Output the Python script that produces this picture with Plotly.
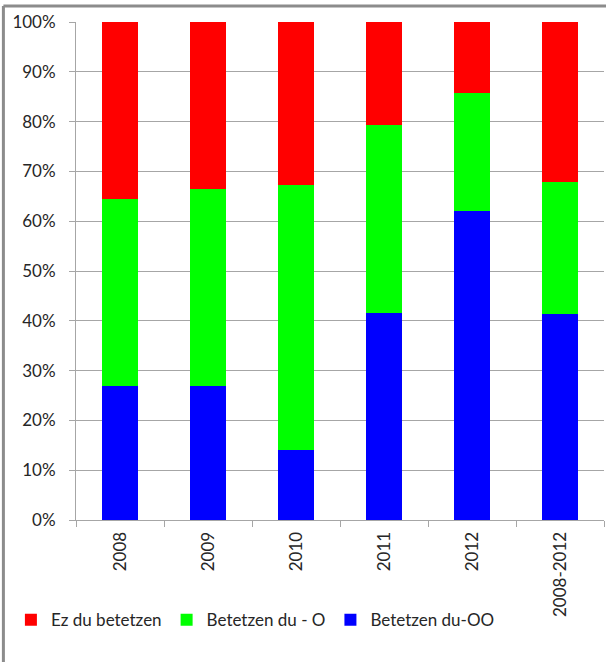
import plotly.graph_objects as go

categories = ["2008", "2009", "2010", "2011", "2012", "2008-2012"]
betetzen_oo = [26.9, 26.9, 14.0, 41.6, 62.1, 41.3]
betetzen_o = [37.6, 39.6, 53.3, 37.8, 23.7, 26.5]
ez_betetzen = [35.5, 33.5, 32.7, 20.6, 14.2, 32.2]
tick_vals = [0, 10, 20, 30, 40, 50, 60, 70, 80, 90, 100]
tick_text = [f"{v}%" for v in tick_vals]

FONT = "Lato, Carlito, Calibri, sans-serif"
TXT = "#262626"
GRID = "#a6a6a6"

fig = go.Figure()
fig.add_trace(go.Bar(x=categories, y=betetzen_oo, name="Betetzen du-OO",
                     marker=dict(color="#0000ff", line=dict(width=0))))
fig.add_trace(go.Bar(x=categories, y=betetzen_o, name="Betetzen du - O",
                     marker=dict(color="#00ff00", line=dict(width=0))))
fig.add_trace(go.Bar(x=categories, y=ez_betetzen, name="Ez du betetzen",
                     marker=dict(color="#ff0000", line=dict(width=0))))

fig.update_layout(
    width=606, height=662,
    barmode="stack", bargap=0.59,
    paper_bgcolor="white", plot_bgcolor="white",
    margin=dict(l=76, r=2, t=22, b=141.5, autoexpand=False),
    font=dict(family=FONT, size=17, color=TXT),
    showlegend=True,
    legend=dict(orientation="h", traceorder="reversed",
                xref="container", yref="container",
                x=0.018, y=0.063, xanchor="left", yanchor="middle",
                font=dict(family=FONT, size=17, color=TXT),
                itemwidth=30, tracegroupgap=0),
    xaxis=dict(type="category", showgrid=False, showline=True, linecolor=GRID,
               linewidth=1, ticks="outside", tickson="boundaries", ticklen=6,
               tickcolor=GRID, tickangle=-90, ticklabelstandoff=4,
               tickfont=dict(family=FONT, size=17, color=TXT)),
    yaxis=dict(range=[0, 100], tickvals=tick_vals, ticktext=tick_text,
               showgrid=True, gridcolor=GRID, gridwidth=1,
               showline=True, linecolor=GRID, linewidth=1,
               ticks="outside", ticklen=6, tickcolor=GRID,
               ticklabelstandoff=10, zeroline=False,
               tickfont=dict(family=FONT, size=17, color=TXT)),
    shapes=[
        dict(type="line", xref="paper", yref="paper",
             x0=-0.1375, x1=1.01, y0=1.032, y1=1.032,
             line=dict(color="#8c8c8c", width=3)),
        dict(type="line", xref="paper", yref="paper",
             x0=-0.1375, x1=-0.1375, y0=1.032, y1=-0.3,
             line=dict(color="#8c8c8c", width=3)),
    ],
)

fig.write_html(
    "out.html",
    config={"displayModeBar": False},
    post_script="document.body.style.margin='0';document.body.style.overflow='hidden';",
)
